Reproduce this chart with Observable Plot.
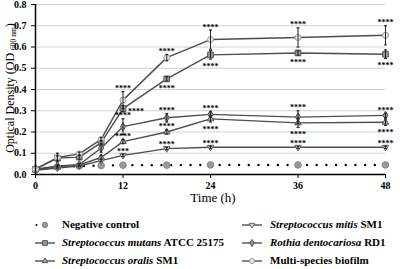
<!DOCTYPE html>
<html><head><meta charset="utf-8">
<script src="https://cdn.jsdelivr.net/npm/d3@7"></script>
<script src="https://cdn.jsdelivr.net/npm/@observablehq/plot@0.6"></script>
<style>
body{margin:0;background:#fff;}
#wrap{position:relative;width:400px;height:269px;font-family:"Liberation Serif","Times New Roman",Times,"DejaVu Serif",serif;overflow:hidden;}
.leg{position:absolute;font-size:11px;font-weight:bold;white-space:nowrap;line-height:12px;color:#000;}
.legsym{position:absolute;}
</style></head><body><div id="wrap"></div>
<script>
// ---- data ----
const times = [0, 3, 6, 9, 12, 18, 24, 36, 48];
const xTicks = [0, 12, 24, 36, 48];
const yTicks = [0, 0.1, 0.2, 0.3, 0.4, 0.5, 0.6, 0.7, 0.8];
const seriesNames = ["Negative control", "Streptococcus mutans ATCC 25175", "Streptococcus oralis SM1",
  "Streptococcus mitis SM1", "Rothia dentocariosa RD1", "Multi-species biofilm"];
const negativeControl = [0.025, 0.035, 0.040, 0.042, 0.044, 0.044, 0.045, 0.045, 0.045];
const negativeErr     = [0, 0, 0, 0, 0, 0, 0, 0, 0];
const mutans          = [0.025, 0.077, 0.082, 0.150, 0.310, 0.450, 0.563, 0.572, 0.566];
const mutansErr       = [0, 0.010, 0.010, 0.010, 0.015, 0.010, 0.020, 0.010, 0.020];
const oralis          = [0.022, 0.035, 0.045, 0.080, 0.155, 0.200, 0.262, 0.243, 0.246];
const oralisErr       = [0, 0.005, 0.005, 0.010, 0.010, 0.010, 0.015, 0.022, 0.015];
const mitis           = [0.020, 0.030, 0.040, 0.065, 0.090, 0.122, 0.128, 0.128, 0.128];
const mitisErr        = [0, 0, 0, 0.005, 0.005, 0.005, 0.005, 0.005, 0.005];
const rothia          = [0.025, 0.040, 0.046, 0.125, 0.225, 0.267, 0.283, 0.270, 0.278];
const rothiaErr       = [0, 0.005, 0.005, 0.020, 0.037, 0.020, 0.012, 0.030, 0.010];
const multi           = [0.025, 0.080, 0.097, 0.165, 0.350, 0.550, 0.635, 0.645, 0.655];
const multiErr        = [0, 0.020, 0.008, 0.008, 0.040, 0.015, 0.045, 0.045, 0.045];
// annotations: [time, series index, placement, label]
const annotations = [
  [12, 5, "above", "****"], [12, 1, "right", "****"], [12, 4, "above", "****"], [12, 2, "above", "****"], [12, 3, "above", "***"],
  [18, 5, "above", "****"], [18, 1, "below", "****"], [18, 4, "above", "****"], [18, 2, "above", "****"], [18, 3, "above", "****"],
  [24, 5, "above", "****"], [24, 1, "below", "****"], [24, 4, "above", "****"], [24, 2, "below", "****"], [24, 3, "above", "****"],
  [36, 5, "above", "****"], [36, 1, "below", "****"], [36, 4, "above", "****"], [36, 2, "below", "****"], [36, 3, "above", "****"],
  [48, 5, "above", "****"], [48, 1, "below", "****"], [48, 4, "above", "****"], [48, 2, "below", "****"], [48, 3, "above", "****"]
];

// ---- build table ----
const valueSets = [negativeControl, mutans, oralis, mitis, rothia, multi];
const errSets = [negativeErr, mutansErr, oralisErr, mitisErr, rothiaErr, multiErr];
const rows = [];
valueSets.forEach((vals, i) => vals.forEach((v, j) => rows.push({s: i, t: times[j], v, e: errSets[i][j]})));
const ann = annotations.map(([t, s, p, label]) => {
  const r = rows.find(d => d.s === s && d.t === t);
  return {t, p, label, y: p === "above" ? r.v + r.e : p === "below" ? r.v - r.e : r.v};
});

// ---- symbols ----
const triDown = {draw(ctx, size) { const s = Math.sqrt(size) * 0.62; ctx.moveTo(-s, -s * 0.6); ctx.lineTo(s, -s * 0.6); ctx.lineTo(0, s * 1.1); ctx.closePath(); }};
const triUp = {draw(ctx, size) { const s = Math.sqrt(size) * 0.62; ctx.moveTo(-s, s * 0.6); ctx.lineTo(s, s * 0.6); ctx.lineTo(0, -s * 1.1); ctx.closePath(); }};
const cap = {draw(ctx, size) { const w = Math.sqrt(size) / 2; ctx.moveTo(-w, 0); ctx.lineTo(w, 0); }};
const styles = [
  {sym: "circle", r: 3.3, fill: "#999", stroke: "#888"},
  {sym: "square", r: 3.2, fill: "#999", stroke: "#555"},
  {sym: triUp, r: 3.0, fill: "#aaa", stroke: "#555"},
  {sym: triDown, r: 3.0, fill: "#ddd", stroke: "#666"},
  {sym: "diamond", r: 2.6, fill: "#999", stroke: "#555"},
  {sym: "circle", r: 3.0, fill: "#e6e6e6", stroke: "#999"}
];
const lineColor = "#4d4d4d";
const serif = "'Liberation Serif', 'Times New Roman', Times, 'DejaVu Serif', serif";

const marks = [
  Plot.gridY(yTicks, {stroke: "#cfcfcf", strokeOpacity: 1}),
  Plot.axisY({ticks: yTicks, tickFormat: ".1f", tickSize: 4, label: null, fontSize: 10, fontWeight: "bold", fontFamily: serif}),
  Plot.axisX({ticks: xTicks, tickSize: 4, label: null, fontSize: 10, tickPadding: 3, fontWeight: "bold", fontFamily: serif}),
  Plot.line(rows.filter(d => d.s === 0), {x: "t", y: "v", stroke: "#000", strokeWidth: 2.4, strokeDasharray: "0 9.7", strokeLinecap: "round"}),
  Plot.line(rows.filter(d => d.s > 0), {x: "t", y: "v", z: "s", stroke: lineColor, strokeWidth: 1.4}),
];
styles.forEach((st, i) => {
  marks.push(Plot.dot(rows.filter(d => d.s === i), {x: "t", y: "v", symbol: st.sym, r: st.r, fill: st.fill, stroke: st.stroke, strokeWidth: 1}));
});
const withErr = rows.filter(d => d.e > 0);
const annOpts = {x: "t", y: "y", text: "label", fontSize: 8, fontWeight: "bold", fontFamily: serif};
marks.push(
  Plot.ruleX(withErr, {x: "t", y1: d => d.v - d.e, y2: d => d.v + d.e, stroke: "#222", strokeWidth: 1}),
  Plot.dot(withErr, {x: "t", y: d => d.v + d.e, symbol: cap, r: 1.6, stroke: "#222", strokeWidth: 1.2}),
  Plot.dot(withErr, {x: "t", y: d => d.v - d.e, symbol: cap, r: 1.6, stroke: "#222", strokeWidth: 1.2}),
  Plot.text(ann.filter(d => d.p === "above"), {...annOpts, dy: -3}),
  Plot.text(ann.filter(d => d.p === "below"), {...annOpts, dy: 7}),
  Plot.text(ann.filter(d => d.p === "right"), {...annOpts, dx: 5, dy: 3, textAnchor: "start"}),
  Plot.ruleY([0], {stroke: "#000", strokeWidth: 1.5}),
  Plot.ruleX([0], {stroke: "#000", strokeWidth: 1.5})
);

const chart = Plot.plot({
  width: 400, height: 205,
  marginLeft: 35, marginRight: 15, marginTop: 4, marginBottom: 31,
  style: {fontFamily: serif, fontWeight: "bold", fontSize: "10px", color: "#000", background: "#fff", overflow: "visible"},
  x: {domain: [0, 48]},
  y: {domain: [0, 0.8]},
  marks
});
const svg = d3.select(chart);
svg.append("text").attr("x", 213).attr("y", 202).attr("text-anchor", "middle").attr("font-family", serif)
  .attr("font-size", 13).attr("font-weight", "normal").attr("fill", "#000").text("Time (h)");
const yl = svg.append("text").attr("transform", "translate(14,88) rotate(-90)").attr("text-anchor", "middle")
  .attr("font-family", serif).attr("font-size", 12).attr("font-weight", "normal").attr("fill", "#000");
yl.append("tspan").text("Optical Density (OD ");
yl.append("tspan").attr("font-size", 7.5).attr("dy", 2).text("600 nm");
yl.append("tspan").attr("dy", -2).text(")");

const wrap = document.getElementById("wrap");
wrap.appendChild(chart);
chart.style.position = "absolute"; chart.style.left = "0"; chart.style.top = "0";

// ---- legend ----
const legendHtml = [
  "Negative control",
  "<i>Streptococcus mutans</i> ATCC 25175",
  "<i>Streptococcus oralis</i> SM1",
  "<i>Streptococcus mitis</i> SM1",
  "<i>Rothia dentocariosa</i> RD1",
  "Multi-species biofilm"
];
const symFor = s => typeof s === "string" ? ({circle: d3.symbolCircle, square: d3.symbolSquare, diamond: d3.symbolDiamond})[s] : s;
legendHtml.forEach((html, i) => {
  const col = i < 3 ? 0 : 1, row = i % 3;
  const cy = 225 + row * 18;
  const sx = col === 0 ? 35 : 242;
  const tx = col === 0 ? 62 : 270;
  const div = document.createElement("div");
  div.className = "leg"; div.innerHTML = html;
  div.style.left = tx + "px"; div.style.top = (cy - 7) + "px";
  wrap.appendChild(div);
  const ls = d3.create("svg").attr("class", "legsym").attr("width", 20).attr("height", 10)
    .style("left", sx + "px").style("top", (cy - 5) + "px");
  const st = styles[i];
  if (i === 0) {
    ls.append("line").attr("x1", 1.5).attr("x2", 18.5).attr("y1", 5).attr("y2", 5).attr("stroke", "#000")
      .attr("stroke-width", 2).attr("stroke-dasharray", "0 8.5").attr("stroke-linecap", "round");
  } else {
    ls.append("line").attr("x1", 0).attr("x2", 20).attr("y1", 5).attr("y2", 5).attr("stroke", lineColor).attr("stroke-width", 1.4);
  }
  ls.append("path").attr("transform", "translate(10,5)")
    .attr("d", d3.symbol(symFor(st.sym), Math.PI * st.r * st.r * 0.7)())
    .attr("fill", st.fill).attr("stroke", st.stroke);
  wrap.appendChild(ls.node());
});
</script></body></html>
